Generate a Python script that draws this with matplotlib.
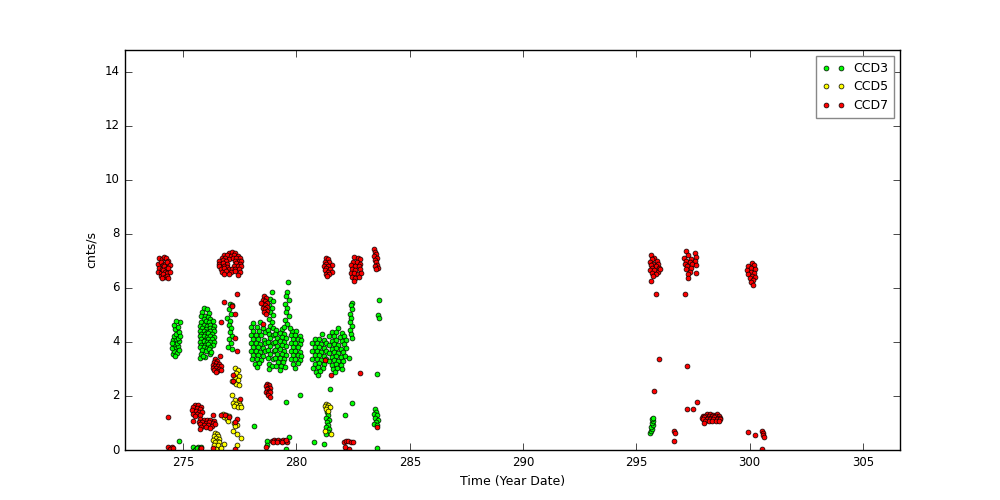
import matplotlib
matplotlib.use("Agg")
import matplotlib.pyplot as plt

# ---------------- data (Time in Year Date, rate in cnts/s) ----------------
ccd3_points = [
    # column near 274.6
    (274.55,3.55),(274.6,3.66),(274.72,3.6),(274.5,3.76),(274.66,3.8),(274.76,3.86),(274.6,3.92),
    (274.71,3.97),(274.8,4.02),(274.55,4.06),(274.66,4.12),(274.76,4.16),(274.6,4.22),(274.7,4.31),
    (274.8,4.36),(274.65,4.46),(274.76,4.56),(274.6,4.62),(274.84,4.72),(274.7,4.77),(274.64,3.48),
    (274.8,3.71),(274.52,3.95),(274.84,4.2),
    # dense group near 276.0
    (275.9,5.25),(276.05,5.22),(275.85,5.1),(276.15,5.08),(275.8,4.95),(275.96,4.97),(276.1,4.93),
    (275.9,4.85),(276.2,4.84),(275.8,4.75),(276.0,4.76),(276.15,4.73),(276.3,4.76),(275.75,4.6),
    (275.9,4.62),(276.06,4.58),(276.2,4.61),(276.35,4.57),(275.85,4.5),(276.0,4.48),(276.16,4.52),
    (276.3,4.49),(275.75,4.4),(275.9,4.42),(276.05,4.38),(276.2,4.41),(276.35,4.39),(275.8,4.3),
    (275.95,4.28),(276.1,4.32),(276.25,4.29),(275.75,4.2),(275.9,4.22),(276.05,4.18),(276.2,4.21),
    (276.35,4.19),(275.8,4.1),(275.95,4.08),(276.1,4.12),(276.25,4.09),(275.75,4.0),(275.9,4.02),
    (276.05,3.98),(276.2,4.01),(276.35,3.99),(275.8,3.9),(275.95,3.88),(276.1,3.92),(276.3,3.89),
    (275.75,3.8),(275.9,3.82),(276.05,3.78),(276.2,3.81),(275.85,3.7),(276.0,3.68),(276.15,3.72),
    (275.8,3.55),(276.2,3.56),(275.75,3.42),(275.95,3.44),(276.23,3.62),(275.86,3.46),
    # column near 277.05
    (277.05,5.42),(277.15,5.35),(277.0,5.2),(277.1,5.05),(276.95,4.9),(277.05,4.78),(277.0,4.62),
    (277.1,4.5),(277.05,4.35),(277.15,4.2),(277.0,4.1),(277.1,3.95),(276.99,3.81),(277.15,3.75),
    # group near 278.3
    (278.1,4.7),(278.4,4.72),(278.0,4.55),(278.25,4.56),(278.5,4.53),(278.1,4.4),(278.35,4.42),
    (278.6,4.38),(278.0,4.25),(278.2,4.27),(278.45,4.24),(278.1,4.1),(278.3,4.12),(278.55,4.08),
    (278.0,3.95),(278.2,3.97),(278.4,3.93),(278.6,3.96),(278.1,3.8),(278.3,3.82),(278.5,3.78),
    (278.0,3.65),(278.2,3.67),(278.4,3.63),(278.6,3.66),(278.1,3.5),(278.3,3.52),(278.5,3.48),
    (278.05,3.35),(278.25,3.37),(278.45,3.33),(278.15,3.2),(278.35,3.22),(278.25,3.08),
    # column near 278.85
    (278.9,5.84),(278.85,5.6),(278.95,5.5),(278.8,5.35),(278.9,5.25),(278.85,5.1),(278.95,5.0),
    (278.8,4.85),(278.9,4.75),(278.85,4.6),(278.95,4.5),(278.75,4.45),(278.8,4.3),(278.95,4.25),
    (278.85,4.15),(278.75,4.0),(278.95,3.95),(278.85,3.85),(278.75,3.7),(279.0,3.65),(278.85,3.55),
    (278.75,3.4),(278.95,3.35),(278.8,3.2),(278.9,3.1),(278.8,2.98),
    # dense group near 279.3
    (279.1,4.45),(279.35,4.47),(279.05,4.3),(279.25,4.32),(279.45,4.28),(279.15,4.15),(279.35,4.17),
    (279.55,4.13),(279.05,4.0),(279.25,4.02),(279.45,3.98),(279.15,3.85),(279.35,3.87),(279.55,3.83),
    (279.05,3.7),(279.25,3.72),(279.45,3.68),(279.15,3.55),(279.35,3.57),(279.55,3.53),(279.05,3.4),
    (279.25,3.42),(279.45,3.38),(279.2,3.25),(279.4,3.27),(279.1,3.1),(279.3,3.12),(279.5,3.08),
    (279.25,2.95),
    # dense group near 279.95
    (279.8,4.4),(280.0,4.42),(279.75,4.25),(279.95,4.27),(280.15,4.23),(279.85,4.1),(280.05,4.12),
    (280.2,4.08),(279.75,3.95),(279.95,3.97),(280.15,3.93),(279.85,3.8),(280.05,3.82),(279.75,3.65),
    (279.95,3.67),(280.15,3.63),(279.85,3.5),(280.05,3.52),(280.2,3.48),(279.75,3.35),(279.95,3.37),
    (280.15,3.33),(279.85,3.2),(280.05,3.22),(279.95,3.05),
    # column near 279.6
    (279.64,6.21),(279.6,5.84),(279.55,5.7),(279.65,5.55),(279.5,5.4),(279.6,5.25),(279.55,5.1),
    (279.65,4.95),(279.5,4.8),(279.6,4.65),(279.45,4.55),(279.7,4.5),
    # dense group near 281.0
    (281.11,4.3),(280.8,4.1),(281.0,4.12),(281.2,4.08),(280.7,3.95),(280.9,3.97),(281.1,3.93),
    (281.3,3.96),(280.8,3.8),(281.0,3.82),(281.2,3.78),(280.7,3.65),(280.9,3.67),(281.1,3.63),
    (281.3,3.66),(280.8,3.5),(281.0,3.52),(281.2,3.48),(280.7,3.35),(280.9,3.37),(281.1,3.33),
    (281.3,3.36),(280.8,3.2),(281.0,3.22),(281.2,3.18),(280.75,3.05),(280.95,3.07),(281.15,3.03),
    (280.85,2.9),(281.05,2.92),(280.95,2.78),
    # dense group near 281.8
    (281.84,4.5),(281.55,4.35),(281.75,4.37),(282.0,4.33),(281.45,4.2),(281.65,4.22),(281.9,4.18),
    (282.1,4.21),(281.55,4.05),(281.75,4.07),(282.0,4.03),(282.2,4.06),(281.45,3.9),(281.65,3.92),
    (281.85,3.88),(282.1,3.91),(281.55,3.75),(281.75,3.77),(281.95,3.73),(282.2,3.76),(281.45,3.6),
    (281.65,3.62),(281.85,3.58),(282.05,3.61),(281.55,3.45),(281.75,3.47),(281.95,3.43),(282.15,3.46),
    (281.45,3.3),(281.65,3.32),(281.85,3.28),(282.05,3.31),(281.55,3.15),(281.75,3.17),(281.95,3.13),
    (281.6,3.0),(281.8,3.02),(282.0,2.98),(281.7,2.87),(282.32,3.41),
    # column near 282.4
    (282.45,5.45),(282.4,5.35),(282.45,5.2),(282.35,5.05),(282.42,4.9),(282.38,4.75),(282.45,4.6),
    (282.35,4.45),(282.4,4.3),(282.45,4.15),
    # near 283.6
    (283.62,5.55),(283.6,4.98),(283.63,4.9),(283.54,2.82),
    (283.45,1.5),(283.5,1.42),(283.4,1.35),(283.55,1.28),(283.45,1.2),(283.6,1.12),(283.5,1.05),
    (283.4,0.98),(283.55,0.92),(283.54,0.07),
    # column near 281.4 (low)
    (281.35,1.4),(281.4,1.3),(281.3,1.2),(281.42,1.12),(281.35,1.02),(281.4,0.92),(281.3,0.85),
    (281.45,0.78),(281.38,0.68),(281.3,0.58),
    # scattered
    (281.5,2.24),(282.44,1.73),(282.14,1.29),(280.77,0.29),(281.21,0.21),(280.15,2.02),(279.53,1.77),
    (278.12,0.87),(278.68,0.35),(278.68,0.2),(279.68,0.47),(279.54,0.04),(274.81,0.32),
    (275.45,0.1),(275.55,0.05),(275.65,0.12),(275.75,0.06),(275.5,0.0),(275.7,0.02),(275.6,0.08),
    (275.8,0.1),(276.45,0.3),(276.55,0.15),
    # right side
    (295.6,0.62),(295.65,0.7),(295.7,0.78),(295.65,0.85),(295.72,0.92),(295.68,1.0),(295.75,1.08),
    (295.7,1.15),(295.72,1.2),
]

ccd5_points = [
    (277.3,3.05),(277.4,2.95),(277.35,2.85),(277.45,2.75),(277.3,2.68),(277.4,2.6),(277.15,2.55),
    (277.25,2.5),(277.35,2.45),(277.45,2.42),(277.14,2.04),
    (277.3,1.85),(277.45,1.8),(277.2,1.75),(277.35,1.7),(277.5,1.68),(277.25,1.62),(277.4,1.58),
    (277.55,1.6),
    (276.75,1.32),(276.9,1.3),(277.0,1.25),(276.8,1.22),(276.95,1.15),(276.99,1.09),
    (277.38,0.94),(277.2,0.72),(277.38,0.6),(277.53,0.45),(277.38,0.2),(277.25,1.0),(277.3,0.88),
    (276.4,0.62),(276.5,0.58),(276.35,0.52),(276.55,0.5),(276.45,0.45),(276.6,0.42),(276.3,0.38),
    (276.5,0.35),(276.4,0.28),(276.6,0.28),(276.35,0.2),(276.55,0.18),(276.8,0.23),(276.45,0.05),
    (276.65,0.08),
    (281.3,1.72),(281.4,1.68),(281.25,1.62),(281.35,1.58),(281.48,1.58),(281.3,1.5),(281.4,1.45),
    (281.26,0.72),(281.51,0.6),
]

ccd7_points = [
    # cluster near 274.15
    (273.95,7.1),(274.05,7.05),(274.15,7.15),(274.25,7.1),(274.35,7.0),(273.9,6.9),(274.0,6.95),
    (274.1,6.85),(274.2,6.9),(274.3,6.95),(274.4,6.85),(273.95,6.75),(274.05,6.7),(274.15,6.8),
    (274.25,6.7),(274.35,6.75),(273.9,6.6),(274.0,6.55),(274.1,6.65),(274.2,6.6),(274.3,6.55),
    (274.4,6.6),(274.0,6.45),(274.1,6.5),(274.2,6.4),(274.3,6.45),(274.05,6.35),(274.35,6.35),
    # cluster near 277.05
    (277.0,7.3),(277.15,7.32),(277.3,7.28),(276.8,7.2),(276.95,7.22),(277.1,7.18),(277.25,7.21),
    (277.4,7.19),(276.7,7.1),(276.85,7.12),(277.0,7.08),(277.2,7.11),(277.35,7.09),(277.5,7.1),
    (276.6,7.0),(276.75,7.02),(276.9,6.98),(277.3,7.01),(277.45,6.99),(277.55,7.0),(276.6,6.9),
    (276.75,6.92),(276.95,6.88),(277.35,6.91),(277.5,6.89),(276.6,6.8),(276.8,6.82),(276.95,6.78),
    (277.25,6.81),(277.4,6.79),(277.55,6.8),(276.65,6.7),(276.8,6.72),(277.0,6.68),(277.15,6.71),
    (277.3,6.69),(277.45,6.7),(276.7,6.6),(276.9,6.62),(277.1,6.58),(277.3,6.61),(277.5,6.59),
    (276.8,6.5),(277.0,6.52),(277.4,6.49),
    # cluster near 281.4
    (281.3,7.1),(281.4,7.05),(281.25,6.95),(281.45,6.95),(281.3,6.9),(281.55,6.85),(281.2,6.8),
    (281.4,6.8),(281.3,6.75),(281.5,6.7),(281.25,6.65),(281.4,6.6),(281.55,6.6),(281.3,6.5),
    (281.45,6.5),(281.35,6.42),
    # cluster near 282.6
    (282.55,7.15),(282.7,7.1),(282.8,7.05),(282.5,6.95),(282.65,6.95),(282.8,6.9),(282.4,6.85),
    (282.6,6.8),(282.75,6.8),(282.45,6.7),(282.6,6.65),(282.8,6.7),(282.4,6.55),(282.55,6.55),
    (282.7,6.5),(282.85,6.55),(282.45,6.4),(282.6,6.35),(282.75,6.4),(282.55,6.25),
    # cluster near 283.5
    (283.4,7.42),(283.45,7.32),(283.5,7.25),(283.4,7.18),(283.55,7.1),(283.45,7.02),(283.5,6.95),
    (283.55,6.85),(283.45,6.8),(283.6,6.75),(283.5,6.7),
    # cluster near 278.6 (upper)
    (278.55,5.68),(278.65,5.62),(278.5,5.55),(278.6,5.5),(278.7,5.45),(278.5,5.4),(278.6,5.35),
    (278.7,5.3),(278.5,5.25),(278.6,5.2),(278.7,5.15),(278.55,5.12),(278.65,5.05),(278.45,5.45),
    (278.5,4.65),
    # cluster near 278.75 (2.2)
    (278.7,2.45),(278.8,2.4),(278.65,2.35),(278.75,2.3),(278.85,2.3),(278.7,2.25),(278.8,2.2),
    (278.65,2.15),(278.75,2.1),(278.85,2.15),(278.75,2.02),(278.85,1.95),
    # cluster near 276.45 (3.1)
    (276.4,3.35),(276.5,3.3),(276.35,3.25),(276.45,3.22),(276.6,3.2),(276.3,3.15),(276.4,3.12),
    (276.55,3.1),(276.65,3.1),(276.3,3.05),(276.45,3.02),(276.6,3.0),(276.35,2.95),(276.5,2.92),
    (276.65,2.95),(276.45,2.88),
    # cluster near 275.6 (1.45)
    (275.5,1.68),(275.65,1.65),(275.8,1.6),(275.45,1.58),(275.6,1.55),(275.75,1.5),(275.4,1.48),
    (275.55,1.45),(275.7,1.42),(275.85,1.4),(275.45,1.35),(275.6,1.32),(275.75,1.3),(275.5,1.25),
    # cluster near 276.0 (1.0)
    (275.75,1.15),(275.9,1.12),(276.05,1.1),(276.2,1.12),(276.35,1.08),(275.7,1.05),(275.85,1.02),
    (276.0,1.0),(276.15,1.02),(276.3,1.0),(275.75,0.95),(275.9,0.92),(276.1,0.92),(276.25,0.9),
    (276.4,0.95),(275.8,0.85),(276.0,0.85),(276.2,0.82),
    # scattered (left part)
    (277.37,5.76),(276.8,5.47),(277.14,5.33),(277.28,5.02),(276.66,4.73),(277.27,4.14),(277.38,3.66),
    (276.62,3.47),(277.18,2.79),(277.2,2.57),(277.5,1.9),(274.31,1.22),(275.41,1.09),(275.74,0.78),
    (276.3,1.28),(276.66,1.31),(276.84,1.31),(277.0,1.22),(277.36,1.16),(277.28,1.03),(277.3,0.04),
    (276.33,0.08),(281.26,3.34),(281.51,2.78),(282.8,2.84),(283.54,0.85),
    (274.35,0.1),(274.45,0.05),(274.5,0.12),(274.4,0.02),(274.55,0.08),(275.74,0.05),(275.8,0.08),
    (278.9,0.35),(279.0,0.38),(279.1,0.33),(279.2,0.36),(279.3,0.34),(279.4,0.37),(279.5,0.33),
    (279.6,0.3),(278.95,0.28),(279.15,0.3),(279.35,0.29),(279.55,0.38),(278.65,0.1),
    (282.1,0.3),(282.2,0.33),(282.29,0.35),(282.4,0.3),(282.5,0.29),(282.2,0.02),(282.3,0.05),
    (282.15,0.1),
    # right part
    (295.65,7.2),(295.8,7.1),(295.7,7.05),(295.9,7.0),(295.6,6.95),(295.75,6.9),(295.95,6.9),
    (295.65,6.85),(295.85,6.8),(296.0,6.75),(295.7,6.75),(295.6,6.65),(295.8,6.65),(295.95,6.6),
    (295.7,6.55),(295.85,6.5),(295.75,6.45),(296.05,6.7),(295.65,6.25),(295.87,5.77),(296.0,3.36),
    (295.78,2.18),
    (297.2,7.35),(297.6,7.3),(297.3,7.2),(297.65,7.15),(297.1,7.1),(297.4,7.05),(297.2,7.0),
    (297.6,7.0),(297.35,6.95),(297.15,6.9),(297.45,6.9),(297.65,6.85),(297.25,6.8),(297.4,6.75),
    (297.2,6.7),(297.35,6.6),(297.65,6.55),(297.3,6.5),(297.3,6.36),(297.15,5.77),(297.22,3.1),
    (297.22,1.53),(297.5,1.53),(297.67,1.77),
    (298.1,1.32),(298.25,1.33),(298.4,1.31),(298.55,1.33),(297.95,1.26),(298.05,1.27),(298.2,1.25),
    (298.35,1.26),(298.5,1.27),(298.65,1.25),(297.9,1.2),(298.0,1.21),(298.15,1.19),(298.3,1.2),
    (298.45,1.21),(298.6,1.19),(298.7,1.2),(297.95,1.14),(298.1,1.15),(298.25,1.13),(298.4,1.14),
    (298.55,1.15),(298.7,1.13),(298.05,1.08),(298.2,1.09),(298.35,1.07),(298.5,1.08),(298.65,1.09),
    (297.99,0.99),
    (296.68,0.72),(296.71,0.62),(296.66,0.33),
    (300.1,6.92),(300.2,6.85),(299.95,6.8),(300.05,6.75),(300.25,6.7),(299.9,6.65),(300.05,6.6),
    (300.2,6.55),(299.95,6.5),(300.1,6.45),(300.25,6.4),(300.0,6.35),(300.15,6.3),(300.05,6.2),
    (300.15,6.12),
    (299.92,0.66),(300.24,0.54),(300.55,0.7),(300.6,0.62),(300.58,0.55),(300.64,0.47),(300.54,0.04),
]

series_labels = ["CCD3", "CCD5", "CCD7"]
series_colors = ["#00ff00", "#ffff00", "#ff0000"]
x_label = "Time (Year Date)"
y_label = "cnts/s"

# ---------------- plotting ----------------
plt.style.use("classic")
plt.rcParams["font.family"] = ["DejaVu Sans"]
fig = plt.figure(figsize=(10, 5), dpi=100, facecolor="white")
ax = fig.add_axes([0.125, 0.1, 0.775, 0.8])

for pts, lab, col in zip([ccd3_points, ccd5_points, ccd7_points], series_labels, series_colors):
    xs = [p[0] for p in pts]
    ys = [p[1] for p in pts]
    ax.plot(xs, ys, linestyle="none", marker="o", markersize=3.5, markerfacecolor=col,
            markeredgecolor="black", markeredgewidth=0.5, label=lab)

ax.set_xlim(272.43, 306.64)
ax.set_ylim(0, 14.8)
ax.set_xticks([275, 280, 285, 290, 295, 300, 305])
ax.set_yticks([0, 2, 4, 6, 8, 10, 12, 14])
ax.tick_params(labelsize=8.5, direction="in", top=True, right=True, length=5)
ax.set_xlabel(x_label, fontsize=9)
ax.set_ylabel(y_label, fontsize=9)
leg = ax.legend(loc="upper right", numpoints=2, fontsize=9, frameon=True, fancybox=False,
                borderpad=0.45, labelspacing=0.45, handlelength=1.8, handletextpad=0.7,
                borderaxespad=0.5)
leg.get_frame().set_edgecolor("#888888")

fig.savefig("out.png", dpi=100, facecolor="white")
